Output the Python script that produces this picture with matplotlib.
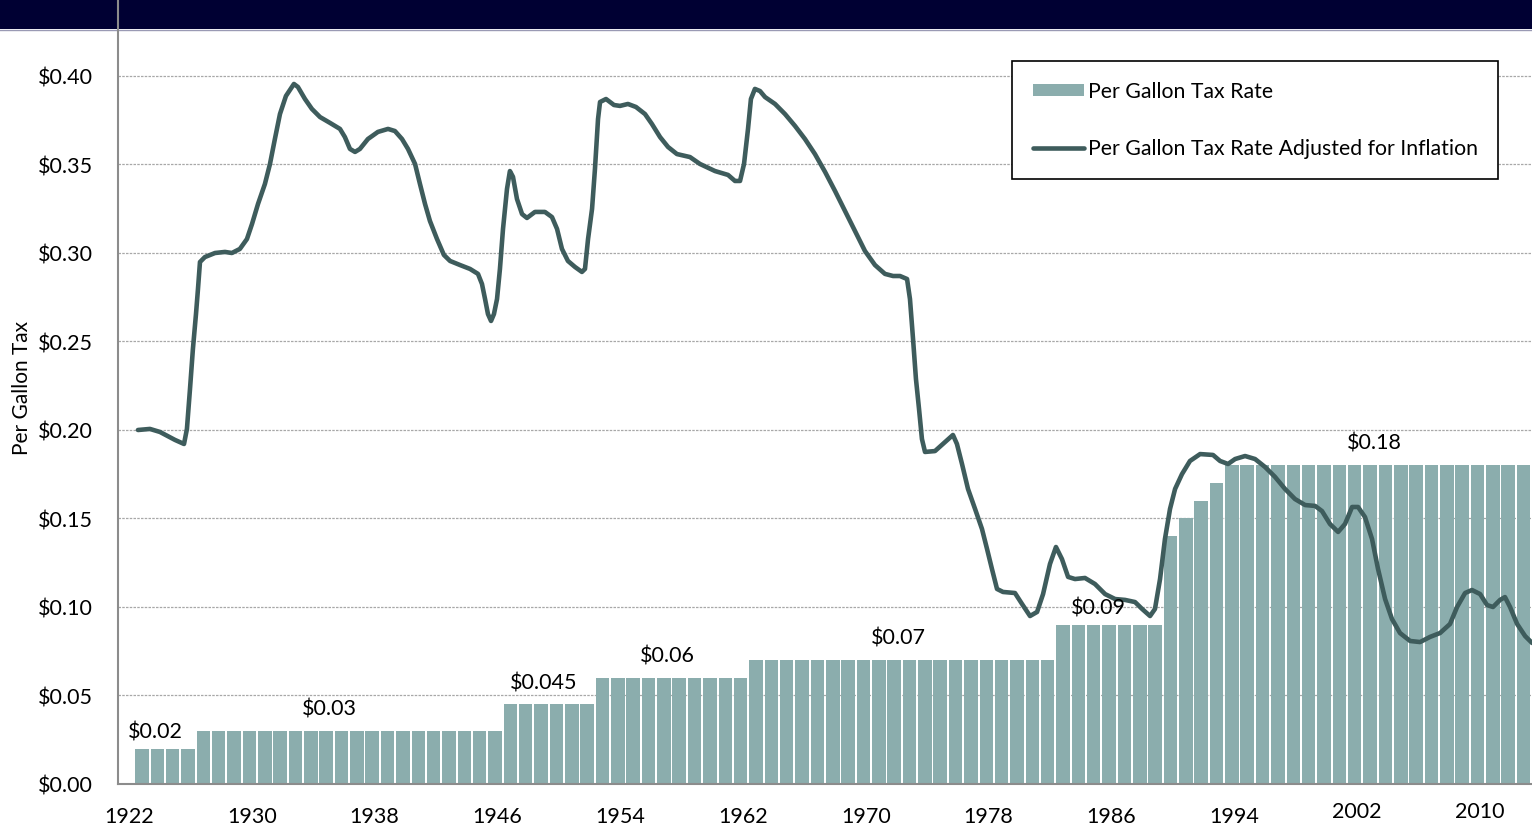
import matplotlib
matplotlib.use("Agg")
import matplotlib.pyplot as plt
from matplotlib.patches import Rectangle
from matplotlib.lines import Line2D

plt.rcParams['font.family'] = ['Lato', 'DejaVu Sans']

# tax rate per gallon, one bar per year
years = list(range(1922, 2013))
rates = [0.02, 0.02, 0.02, 0.02,
         0.03, 0.03, 0.03, 0.03, 0.03, 0.03, 0.03, 0.03, 0.03, 0.03,
         0.03, 0.03, 0.03, 0.03, 0.03, 0.03, 0.03, 0.03, 0.03, 0.03,
         0.045, 0.045, 0.045, 0.045, 0.045, 0.045,
         0.06, 0.06, 0.06, 0.06, 0.06, 0.06, 0.06, 0.06, 0.06, 0.06,
         0.07, 0.07, 0.07, 0.07, 0.07, 0.07, 0.07, 0.07, 0.07, 0.07,
         0.07, 0.07, 0.07, 0.07, 0.07, 0.07, 0.07, 0.07, 0.07, 0.07,
         0.09, 0.09, 0.09, 0.09, 0.09, 0.09, 0.09,
         0.14, 0.15, 0.16, 0.17,
         0.18, 0.18, 0.18, 0.18, 0.18, 0.18, 0.18, 0.18, 0.18, 0.18,
         0.18, 0.18, 0.18, 0.18, 0.18, 0.18, 0.18, 0.18, 0.18, 0.18]

# inflation adjusted rate
line_years = [1921.74, 1922.52, 1923.17, 1924.15, 1924.74, 1924.93, 1925.13, 1925.32, 1925.52, 1925.65,
              1925.78, 1926.10, 1926.76, 1927.41, 1927.86, 1928.38, 1928.84, 1929.17, 1929.56, 1930.01,
              1930.34, 1930.66, 1930.99, 1931.38, 1931.90, 1932.16, 1932.62, 1933.07, 1933.60, 1934.25,
              1934.90, 1935.22, 1935.55, 1935.88, 1936.20, 1936.72, 1937.37, 1938.03, 1938.48, 1938.94,
              1939.33, 1939.79, 1940.11, 1940.44, 1940.76, 1941.22, 1941.67, 1942.07, 1942.72, 1943.37,
              1943.89, 1944.15, 1944.35, 1944.54, 1944.74, 1944.93, 1945.13, 1945.32, 1945.52, 1945.78,
              1945.97, 1946.17, 1946.43, 1946.76, 1947.08, 1947.60, 1948.25, 1948.71, 1949.04, 1949.36,
              1949.75, 1950.21, 1950.66, 1950.86, 1951.06, 1951.32, 1951.51, 1951.71, 1951.84, 1952.23,
              1952.75, 1953.14, 1953.66, 1954.18, 1954.77, 1955.22, 1955.75, 1956.27, 1956.85, 1957.70,
              1958.35, 1959.33, 1960.18, 1960.63, 1960.96, 1961.22, 1961.48, 1961.67, 1961.93, 1962.26,
              1962.59, 1963.24, 1963.89, 1964.54, 1965.19, 1965.84, 1966.50, 1967.15, 1967.80, 1968.45,
              1969.10, 1969.75, 1970.40, 1970.93, 1971.38, 1971.84, 1972.03, 1972.23, 1972.42, 1972.62,
              1972.81, 1973.01, 1973.66, 1974.31, 1974.83, 1975.09, 1975.42, 1975.81, 1976.27, 1976.72,
              1977.05, 1977.37, 1977.70, 1978.09, 1978.87, 1979.33, 1979.85, 1980.31, 1980.70, 1981.15,
              1981.54, 1981.93, 1982.33, 1982.78, 1983.43, 1984.08, 1984.74, 1985.39, 1986.04, 1986.69,
              1987.15, 1987.67, 1987.99, 1988.32, 1988.64, 1988.97, 1989.30, 1989.75, 1990.27, 1990.93,
              1991.77, 1992.23, 1992.75, 1993.21, 1993.86, 1994.51, 1995.16, 1995.81, 1996.46, 1997.11,
              1997.77, 1998.42, 1998.87, 1999.39, 1999.92, 2000.37, 2000.83, 2001.22, 2001.67, 2002.13,
              2002.52, 2002.98, 2003.43, 2003.95, 2004.61, 2005.26, 2005.91, 2006.56, 2007.21, 2007.67,
              2008.19, 2008.64, 2009.17, 2009.62, 2010.01, 2010.47, 2010.79, 2011.12, 2011.58, 2012.10,
              2012.55]
line_values = [0.2000, 0.2006, 0.1989, 0.1944, 0.1921, 0.2006, 0.2232, 0.2458, 0.2655, 0.2797,
               0.2949, 0.2977, 0.3000, 0.3006, 0.3000, 0.3023, 0.3079, 0.3164, 0.3277, 0.3390,
               0.3503, 0.3644, 0.3785, 0.3887, 0.3955, 0.3938, 0.3870, 0.3814, 0.3768, 0.3735,
               0.3701, 0.3655, 0.3588, 0.3571, 0.3588, 0.3644, 0.3684, 0.3701, 0.3689, 0.3644,
               0.3588, 0.3503, 0.3390, 0.3277, 0.3181, 0.3079, 0.2989, 0.2955, 0.2932, 0.2910,
               0.2882, 0.2825, 0.2740, 0.2655, 0.2616, 0.2655, 0.2740, 0.2910, 0.3136, 0.3362,
               0.3463, 0.3430, 0.3305, 0.3220, 0.3198, 0.3232, 0.3232, 0.3203, 0.3136, 0.3023,
               0.2955, 0.2921, 0.2893, 0.2910, 0.3079, 0.3249, 0.3475, 0.3757, 0.3853, 0.3870,
               0.3836, 0.3831, 0.3842, 0.3825, 0.3785, 0.3729, 0.3655, 0.3599, 0.3559, 0.3542,
               0.3503, 0.3463, 0.3441, 0.3407, 0.3407, 0.3503, 0.3701, 0.3870, 0.3927, 0.3915,
               0.3881, 0.3842, 0.3785, 0.3718, 0.3644, 0.3559, 0.3458, 0.3350, 0.3237, 0.3124,
               0.3011, 0.2932, 0.2882, 0.2870, 0.2870, 0.2853, 0.2740, 0.2514, 0.2288, 0.2119,
               0.1949, 0.1876, 0.1881, 0.1932, 0.1972, 0.1921, 0.1808, 0.1667, 0.1554, 0.1441,
               0.1328, 0.1215, 0.1102, 0.1085, 0.1079, 0.1017, 0.0949, 0.0972, 0.1073, 0.1243,
               0.1339, 0.1271, 0.1170, 0.1158, 0.1164, 0.1130, 0.1073, 0.1045, 0.1040, 0.1028,
               0.0989, 0.0949, 0.0989, 0.1158, 0.1384, 0.1554, 0.1667, 0.1751, 0.1825, 0.1864,
               0.1859, 0.1825, 0.1808, 0.1836, 0.1853, 0.1836, 0.1791, 0.1735, 0.1667, 0.1610,
               0.1576, 0.1571, 0.1542, 0.1469, 0.1424, 0.1469, 0.1565, 0.1565, 0.1508, 0.1384,
               0.1215, 0.1045, 0.0932, 0.0853, 0.0808, 0.0802, 0.0831, 0.0853, 0.0904, 0.1000,
               0.1079, 0.1096, 0.1073, 0.1011, 0.1000, 0.1040, 0.1056, 0.1000, 0.0904, 0.0836,
               0.0797]

# text above each rate step
step_labels = ["$0.02", "$0.03", "$0.045", "$0.06", "$0.07", "$0.09", "$0.18"]
step_values = [0.02, 0.03, 0.045, 0.06, 0.07, 0.09, 0.18]
step_x = [1922.85, 1934.2, 1948.2, 1956.2, 1971.25, 1984.3, 2002.26]
step_lift = [17, 22, 22, 22, 23, 17, 23]   # pixels above bar top

year_ticks = [1922, 1930, 1938, 1946, 1954, 1962, 1970, 1978, 1986, 1994, 2002, 2010]
y_ticks = [0.0, 0.05, 0.10, 0.15, 0.20, 0.25, 0.30, 0.35, 0.40]

bar_color = "#8badad"
line_color = "#3e5c5c"

fig = plt.figure(figsize=(15.32, 8.28), dpi=100)
fig.patch.set_facecolor("white")

# dark banner at the top (title cut off)
banner = Rectangle((0, 1 - 30 / 828), 1, 30 / 828, transform=fig.transFigure,
                   facecolor="#000033", edgecolor="none", zorder=-2)
fig.patches.append(banner)
fig.add_artist(Line2D([0, 1], [1 - 30.5 / 828, 1 - 30.5 / 828], transform=fig.transFigure,
                      color="#9a9ab4", lw=1, zorder=-1))

ax = fig.add_axes([118 / 1532, 43 / 828, 1414 / 1532, 785 / 828])
ax.set_facecolor("none")

bars = ax.bar(years, rates, width=0.88, color=bar_color, edgecolor="none", zorder=2)
line, = ax.plot(line_years, line_values, color=line_color, lw=3.3, zorder=3,
                solid_capstyle="round")

ax.set_xlim(1920.44, 2012.55)
ax.set_ylim(0, 0.4435)

ax.set_yticks(y_ticks)
ax.set_yticklabels(["$%.2f" % v for v in y_ticks], fontsize=15.5)
ax.tick_params(axis="y", length=0, pad=18)
ax.set_xticks([])

ax.yaxis.grid(True, color="#a8a8a8", linestyle=(0, (2, 1)), lw=0.9)
ax.set_axisbelow(True)

for s in ["top", "right"]:
    ax.spines[s].set_visible(False)
for s in ["left", "bottom"]:
    ax.spines[s].set_color("#8c8c8c")
    ax.spines[s].set_linewidth(1.5)

# year labels sit a little left of the bars, last two slightly higher
for yr in year_ticks:
    dy = -27 if yr >= 2002 else -32
    ax.annotate(str(yr), xy=(yr, 0), xycoords=("data", "axes fraction"),
                xytext=(-13, dy), textcoords="offset pixels",
                ha="center", va="center", fontsize=15.5)

for txt, v, x, lift in zip(step_labels, step_values, step_x, step_lift):
    ax.annotate(txt, xy=(x, v), xytext=(0, lift), textcoords="offset pixels",
                ha="center", va="center", fontsize=15.5)

fig.text(22 / 1532, 1 - 388 / 828, "Per Gallon Tax", rotation=90,
         ha="center", va="center", fontsize=15)

leg = ax.legend([bars, line], ["Per Gallon Tax Rate", "Per Gallon Tax Rate Adjusted for Inflation"],
                loc="upper right", bbox_to_anchor=(0.976, 0.921), borderaxespad=0,
                fontsize=15.3, frameon=True, fancybox=False, framealpha=1,
                edgecolor="black", handlelength=2.4, handleheight=0.5, handletextpad=0.2,
                labelspacing=1.75, borderpad=0.95)
leg.get_frame().set_linewidth(1.2)

fig.savefig("out.png", dpi=100)
